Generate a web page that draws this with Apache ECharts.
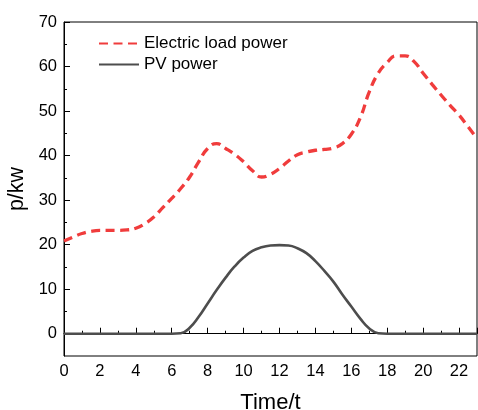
<!DOCTYPE html>
<html><head><meta charset="utf-8">
<script src="https://cdn.jsdelivr.net/npm/echarts@6/dist/echarts.min.js"></script>
<style>html,body{margin:0;padding:0;background:#fff}#c{width:478px;height:410px}</style>
</head><body><div id="c"></div>
<script>
// time samples every half hour
var times = [0,0.5,1,1.5,2,2.5,3,3.5,4,4.5,5,5.5,6,6.5,7,7.5,8,8.5,9,9.5,10,10.5,11,11.5,12,12.5,13,13.5,14,14.5,15,15.5,16,16.5,17,17.5,18,18.5,19,19.5,20,20.5,21,21.5,22,22.5,23];
var loadPower = [20.8,21.7,22.5,23.0,23.2,23.2,23.2,23.3,23.7,24.7,26.2,28.3,30.4,32.6,35.2,38.6,41.6,42.7,41.6,40.3,38.6,36.6,35.2,35.8,37.1,38.8,40.2,40.8,41.2,41.4,41.7,42.7,44.8,48.5,54.3,58.5,60.9,62.4,62.4,61.1,58.5,56.0,53.6,51.3,49.1,46.5,43.8];
var pvPower = [0,0,0,0,0,0,0,0,0,0,0,0,0,0.1,1.35,3.8,6.8,9.8,12.6,15.1,17.1,18.6,19.4,19.8,19.9,19.8,19.2,18.1,16.3,14.1,11.7,8.8,6.1,3.4,1.2,0.1,0,0,0,0,0,0,0,0,0,0,0];
var yMajorTicks = [0,10,20,30,40,50,60,70];
var yMinorTicks = [5,15,25,35,45,55,65];

var font = 'Liberation Sans, Arial, sans-serif';
var chart = echarts.init(document.getElementById('c'));
function pairs(v){ return times.map(function(h,i){return [h,v[i]];}); }
chart.setOption({
  animation:false,
  grid:{left:64,top:22,right:1,bottom:54,show:true,borderColor:'#000',borderWidth:1,outerBoundsMode:'none',containLabel:false},
  legend:{
    left:98,top:35,padding:0,orient:'vertical',itemGap:4,itemWidth:40,itemHeight:14,
    textStyle:{fontFamily:font,fontSize:17,color:'#000'},
    itemStyle:{opacity:0},
    data:['Electric load power','PV power']
  },
  xAxis:{
    type:'value',min:0,max:23,interval:2,
    name:'Time/t',nameLocation:'middle',nameGap:36,
    nameTextStyle:{fontFamily:font,fontSize:22,color:'#000'},
    axisLine:{lineStyle:{color:'#000',width:1}},
    axisTick:{inside:true,length:6,lineStyle:{color:'#000'}},
    minorTick:{show:true,splitNumber:2,length:3,lineStyle:{color:'#000'}},
    axisLabel:{fontFamily:font,fontSize:16.5,color:'#000',margin:7,
      formatter:function(v){return v%2===0?String(v):'';}},
    splitLine:{show:false}
  },
  yAxis:[{
    type:'value',min:-5,max:70,
    name:'p/kw',nameLocation:'middle',nameGap:31,
    nameTextStyle:{fontFamily:font,fontSize:21.5,color:'#000'},
    axisLine:{show:true,lineStyle:{color:'#000',width:1}},
    axisTick:{show:true,inside:true,length:6,customValues:yMajorTicks,lineStyle:{color:'#000'}},
    axisLabel:{fontFamily:font,fontSize:16.5,color:'#000',margin:7,customValues:yMajorTicks},
    splitLine:{show:false}
  },{
    type:'value',min:-5,max:70,position:'left',
    axisLine:{show:false},
    axisTick:{show:true,inside:true,length:3,customValues:yMinorTicks,lineStyle:{color:'#000'}},
    axisLabel:{show:false},
    splitLine:{show:false}
  }],
  series:[{
    name:'Electric load power',type:'line',smooth:true,symbol:'none',
    data:pairs(loadPower),
    lineStyle:{color:'#f03c3c',width:3.3,type:[9,5.5]},
    itemStyle:{color:'#f03c3c'}
  },{
    name:'PV power',type:'line',smooth:true,symbol:'none',
    data:pairs(pvPower),
    lineStyle:{color:'#4d4d4d',width:2.6},
    itemStyle:{color:'#4d4d4d'}
  }]
});
</script></body></html>
